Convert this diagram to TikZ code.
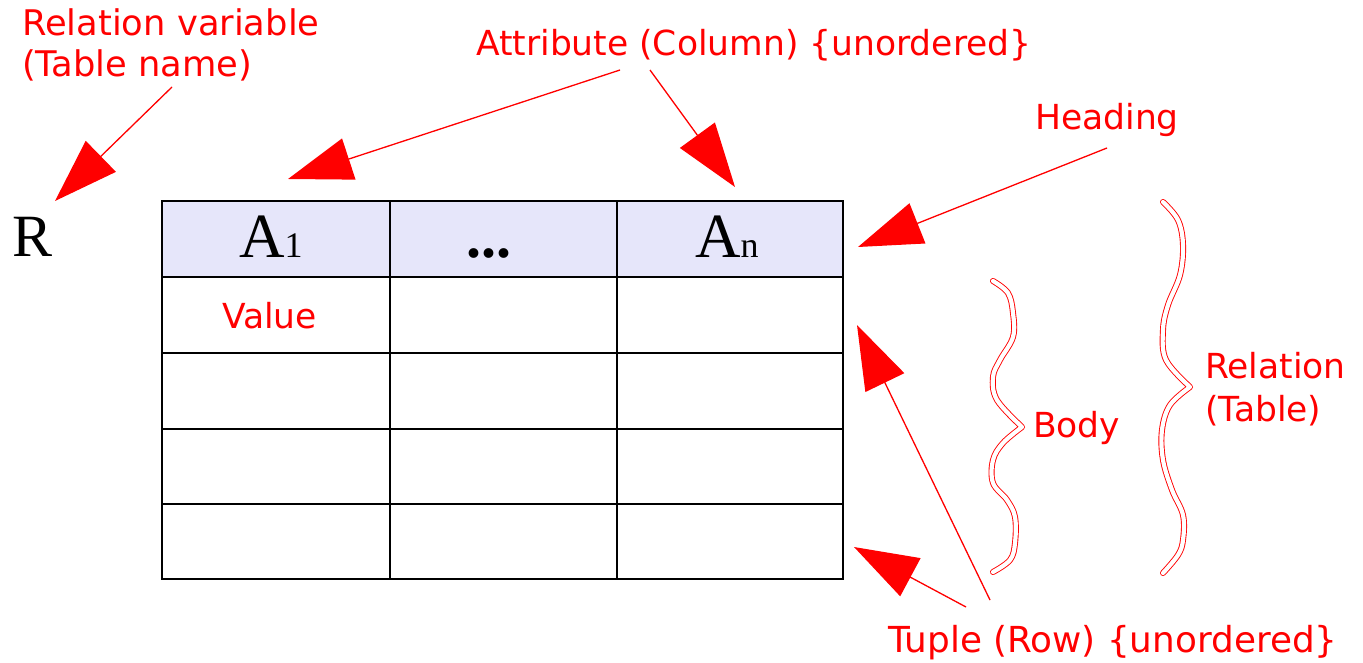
\documentclass[tikz,border=0pt]{standalone}
\usepackage{fontspec}
\setmainfont{Liberation Serif}
\newfontfamily\lblfont{DejaVu Sans}
\usetikzlibrary{arrows.meta}
\definecolor{hdr}{RGB}{230,230,250}
\begin{document}
\begin{tikzpicture}[x=1pt,y=-1pt,
  lbl/.style={text=red,font=\lblfont\fontsize{34.5}{40}\selectfont,inner sep=0,anchor=base west},
  arr/.style={draw=red,line width=1.3pt,-{Triangle[length=64pt,width=43pt]},fill=red},
  grid/.style={draw=black,line width=1.5pt},
  bracestyle/.style={draw=red,line width=0.9pt,double=white,double distance=4.2pt,line join=round,line cap=round},
  big/.style={inner sep=0,anchor=base west,font=\fontsize{60}{66}\selectfont}]
\useasboundingbox (0,0) rectangle (1363,663);
\fill[white] (0,0) rectangle (1363,663);
% table
\fill[hdr] (162,201) rectangle (843,277);
\draw[grid] (162,201) rectangle (843,579);
\foreach \yy in {277,353,429,504} \draw[grid] (162,\yy) -- (843,\yy);
\foreach \xx in {390,617} \draw[grid] (\xx,201) -- (\xx,579);
% header texts
\node[big] (R) at (12,257) {R};
\node[inner sep=0,anchor=base west] (A1) at (239,258) {\fontsize{63}{70}\selectfont A\fontsize{36}{40}\selectfont 1};
\node[big,font=\bfseries\fontsize{60}{66}\selectfont] (dots) at (466,258) {...};
\node[inner sep=0,anchor=base west] (An) at (695,258) {\fontsize{63}{70}\selectfont A\fontsize{36}{40}\selectfont n};
% labels
\node[lbl,font=\lblfont\fontsize{35.3}{40}\selectfont] (rv1) at (22,36) {Relation variable};
\node[lbl,font=\lblfont\fontsize{35.3}{40}\selectfont] (rv2) at (22,77) {(Table name)};
\node[lbl] (attr) at (476,56) {Attribute (Column) \{unordered\}};
\node[lbl] (head) at (1035,130) {Heading};
\node[lbl] (val) at (222,328) {Value};
\node[lbl] (body) at (1033,437) {Body};
\node[lbl] (rel1) at (1205,378) {Relation};
\node[lbl] (rel2) at (1205,421) {(Table)};
\node[lbl,font=\lblfont\fontsize{35.8}{40}\selectfont] (tuple) at (888,652) {Tuple (Row) \{unordered\}};
% arrow coordinates
\coordinate (s1) at (172,87);   \coordinate (t1) at (55,201);
\coordinate (s2) at (620,70);   \coordinate (t2) at (288,179);
\coordinate (s3) at (650,70);   \coordinate (t3) at (735,187);
\coordinate (s4) at (1107,148); \coordinate (t4) at (858,247);
\coordinate (s5) at (990,600);  \coordinate (t5) at (857,325);
\coordinate (s6) at (966,607);  \coordinate (t6) at (854,547);
\draw[arr] (s1) -- (t1);
\draw[arr] (s2) -- (t2);
\draw[arr] (s3) -- (t3);
\draw[arr] (s4) -- (t4);
\draw[arr] (s5) -- (t5);
\draw[arr] (s6) -- (t6);
% braces
\draw[bracestyle] plot[smooth,tension=0.6] coordinates {(993,281) (1008,293) (1013,313) (1013,337) (1000,360) (993,377) (997,400) (1022,427)}
  -- plot[smooth,tension=0.6] coordinates {(1022,427) (1003,443) (993,460) (993,483) (1007,500) (1015,517) (1015,543) (1010,560) (993,572)};
\draw[bracestyle] plot[smooth,tension=0.6] coordinates {(1163,202) (1178,220) (1183,245) (1180,275) (1168,305) (1163,330) (1166,360) (1190,387)}
  -- plot[smooth,tension=0.6] coordinates {(1190,387) (1170,405) (1162,430) (1163,460) (1172,490) (1183,515) (1183,540) (1178,555) (1163,573)};
\end{tikzpicture}
\end{document}
